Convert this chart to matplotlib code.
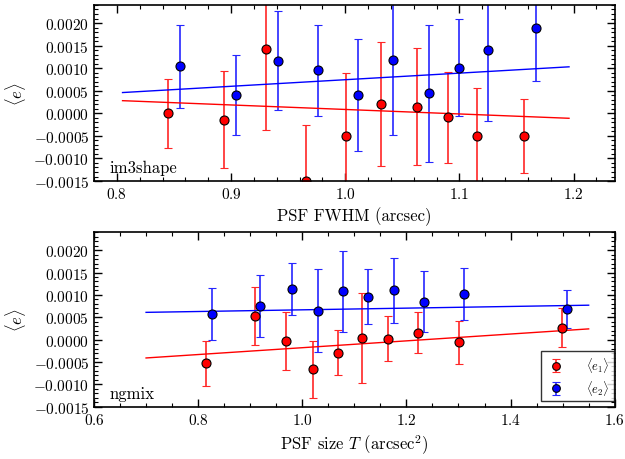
import matplotlib
matplotlib.use("Agg")
import matplotlib.pyplot as plt
from matplotlib.ticker import MultipleLocator, FuncFormatter

plt.rcParams['font.family'] = 'serif'
plt.rcParams['font.serif'] = ['cmr10']
plt.rcParams['mathtext.fontset'] = 'cm'
plt.rcParams['axes.formatter.use_mathtext'] = True
plt.rcParams['axes.unicode_minus'] = False

# im3shape, binned in PSF FWHM
fwhm_e1 = [0.845, 0.894, 0.931, 0.966, 1.001, 1.031, 1.063, 1.090, 1.115, 1.157]
e1_im3 = [0.0, -0.00014, 0.00142, -0.0015, -0.0005, 0.00021, 0.00015, -0.00009, -0.0005, -0.0005]
e1_im3_err = [0.00076, 0.00107, 0.00178, 0.00124, 0.00139, 0.00137, 0.00129, 0.00101, 0.00107, 0.00082]
fwhm_e2 = [0.855, 0.904, 0.941, 0.976, 1.011, 1.042, 1.073, 1.100, 1.125, 1.167]
e2_im3 = [0.00104, 0.00041, 0.00117, 0.00095, 0.00041, 0.00118, 0.00044, 0.00101, 0.00141, 0.0019]
e2_im3_err = [0.00092, 0.00088, 0.0011, 0.001, 0.00124, 0.00166, 0.00151, 0.00108, 0.00159, 0.00119]
fit_x_im3 = [0.805, 1.196]
fit_e1_im3 = [0.00028, -0.00011]
fit_e2_im3 = [0.00046, 0.00103]

# ngmix, binned in PSF size T
size_e1 = [0.816, 0.909, 0.969, 1.021, 1.069, 1.115, 1.165, 1.222, 1.301, 1.499]
e1_ng = [-0.00053, 0.00053, -0.00004, -0.00066, -0.00029, 0.00004, 0.00002, 0.00015, -0.00006, 0.00027]
e1_ng_err = [0.00051, 0.00065, 0.00065, 0.00064, 0.00051, 0.001, 0.0005, 0.00046, 0.00048, 0.00044]
size_e2 = [0.826, 0.919, 0.980, 1.031, 1.078, 1.126, 1.176, 1.234, 1.310, 1.508]
e2_ng = [0.00057, 0.00075, 0.00114, 0.00065, 0.00108, 0.00096, 0.0011, 0.00085, 0.00103, 0.00069]
e2_ng_err = [0.00058, 0.00069, 0.00058, 0.00092, 0.0009, 0.00061, 0.00073, 0.00068, 0.00058, 0.00043]
fit_x_ng = [0.70, 1.55]
fit_e1_ng = [-0.00041, 0.00024]
fit_e2_ng = [0.00061, 0.00077]

fig = plt.figure(figsize=(6.25, 4.6), dpi=100)
ax1 = fig.add_axes([0.1504, 0.6043, 0.8331, 0.3827])
ax2 = fig.add_axes([0.1504, 0.1137, 0.8331, 0.3791])

ebkw = dict(fmt='o', ms=6.5, mec='k', mew=0.8, capsize=3, elinewidth=1.2, capthick=1.2)


def panel(ax, x1, y1, s1, x2, y2, s2, fx, f1, f2):
    ax.errorbar(x1, y1, yerr=s1, color='r', ecolor=(1, 0.15, 0.15), label=r'$\langle e_1\rangle$', **ebkw)
    ax.errorbar(x2, y2, yerr=s2, color='b', ecolor=(0.15, 0.15, 1), label=r'$\langle e_2\rangle$', **ebkw)
    ax.plot(fx, f1, color='r', lw=1)
    ax.plot(fx, f2, color='b', lw=1)
    ax.set_ylim(-0.0015, 0.0024)
    ax.yaxis.set_major_locator(MultipleLocator(0.0005))
    ax.yaxis.set_minor_locator(MultipleLocator(0.0001))
    ax.yaxis.set_major_formatter(FuncFormatter(lambda v, p: r'$%.4f$' % v))
    ax.tick_params(which='both', direction='in', top=True, right=True, labelsize=11)
    ax.tick_params(which='major', length=6, width=1)
    ax.tick_params(which='minor', length=3, width=0.8)
    ax.set_ylabel(r'$\langle e\rangle$', fontsize=12)
    for s in ax.spines.values():
        s.set_linewidth(1.2)


panel(ax1, fwhm_e1, e1_im3, e1_im3_err, fwhm_e2, e2_im3, e2_im3_err, fit_x_im3, fit_e1_im3, fit_e2_im3)
ax1.set_xlim(0.78, 1.236)
ax1.xaxis.set_major_locator(MultipleLocator(0.1))
ax1.xaxis.set_minor_locator(MultipleLocator(0.02))
ax1.set_xlabel('PSF FWHM (arcsec)', fontsize=12)
ax1.text(0.03, 0.05, 'im3shape', transform=ax1.transAxes, fontsize=12)

panel(ax2, size_e1, e1_ng, e1_ng_err, size_e2, e2_ng, e2_ng_err, fit_x_ng, fit_e1_ng, fit_e2_ng)
ax2.set_xlim(0.6, 1.6)
ax2.xaxis.set_major_locator(MultipleLocator(0.2))
ax2.xaxis.set_minor_locator(MultipleLocator(0.05))
ax2.set_xlabel(r'PSF size $T$ (arcsec$^2$)', fontsize=12)
ax2.text(0.03, 0.05, 'ngmix', transform=ax2.transAxes, fontsize=12)
leg = ax2.legend(loc='lower right', bbox_to_anchor=(0.998, 0.03), borderaxespad=0,
                 fancybox=False, edgecolor='k', fontsize=9, handlelength=1.6,
                 handletextpad=1.6, borderpad=0.35, labelspacing=0.3, markerscale=0.85)
leg.get_frame().set_linewidth(1.0)

fig.savefig('out.png', dpi=100)
